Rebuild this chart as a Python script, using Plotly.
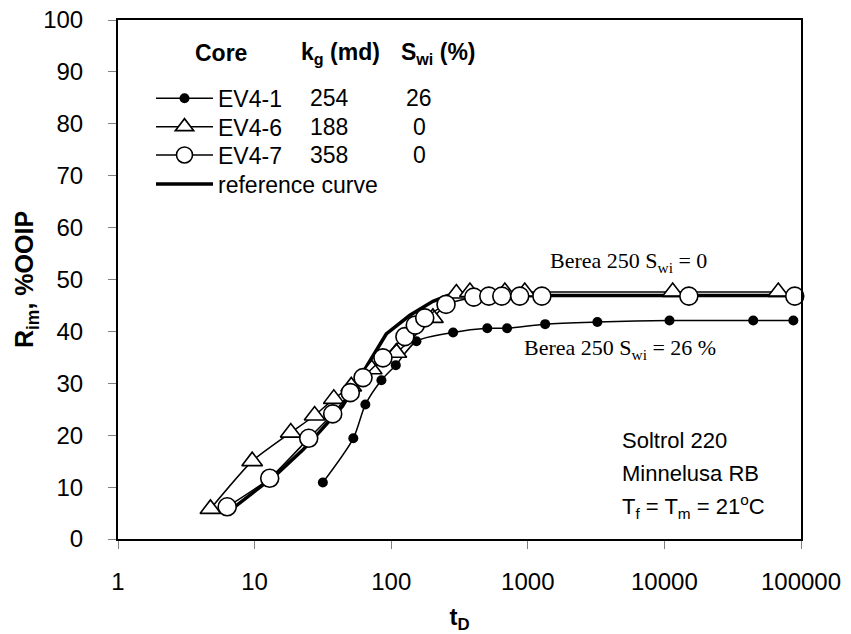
import plotly.graph_objects as go

# Core table shown in the legend block
cores = ["EV4-1", "EV4-6", "EV4-7"]
perm_kg_md = [254, 188, 358]
swi_pct = [26, 0, 0]

# EV4-1 : filled circles
ev41_td = [31.6, 52.8, 64.7, 84.8, 108, 153, 284, 505, 705, 1340, 3230, 10900, 44700, 87900]
ev41_r = [10.9, 19.4, 25.9, 30.6, 33.5, 38.1, 39.8, 40.6, 40.6, 41.4, 41.8, 42.1, 42.1, 42.1]

# EV4-6 : open triangles
ev46_td = [4.75, 9.6, 18.4, 27.5, 38, 51, 72, 109, 202, 300, 377, 679, 950, 11500, 68200]
ev46_r = [5.8, 15.0, 20.5, 23.8, 27.0, 29.4, 32.7, 35.9, 42.6, 47.3, 47.6, 47.6, 47.6, 47.6, 47.6]

# EV4-7 : open circles
ev47_td = [6.3, 12.9, 24.9, 37.3, 50.2, 62.2, 87, 126, 150, 176, 252, 402, 518, 645, 873, 1268, 15100, 90000]
ev47_r = [6.2, 11.7, 19.4, 24.1, 28.2, 31.1, 34.9, 39.0, 41.2, 42.6, 45.2, 46.6, 46.8, 46.8, 46.8, 46.8, 46.8, 46.8]

# Berea reference curve
ref_td = [7.0, 11.5, 14.4, 22.6, 26.7, 44, 66, 92, 137, 202, 260, 100000]
ref_r = [6.0, 10.5, 12.4, 17.2, 19.2, 25.6, 33.3, 39.5, 43.1, 45.8, 46.9, 46.9]

x_tickvals = [1, 10, 100, 1000, 10000, 100000]
x_ticktext = ["1", "10", "100", "1000", "10000", "100000"]

SANS = "Liberation Sans, Arial, sans-serif"
SERIF = "Liberation Serif, Times New Roman, serif"

W, H = 851, 634
ML, MR, MT, MB = 118, 50, 20, 95
PW, PH = W - ML - MR, H - MT - MB

TABLE_FONT = 23


def px_x(px):
    return (px - ML) / PW


def px_y(py):
    return 1 - (py - MT) / PH


fig = go.Figure()

fig.add_trace(go.Scatter(
    x=ref_td, y=ref_r, name="reference curve", mode="lines",
    line=dict(color="black", width=3.5), legend="legend4",
))
fig.add_trace(go.Scatter(
    x=ev41_td, y=ev41_r, name=cores[0], mode="lines+markers",
    line=dict(color="black", width=1.5, shape="spline", smoothing=0.8),
    marker=dict(symbol="circle", size=10, color="black"),
    cliponaxis=False, legend="legend",
))
fig.add_trace(go.Scatter(
    x=ev46_td, y=ev46_r, name=cores[1], mode="lines+markers",
    line=dict(color="black", width=1.5, shape="spline", smoothing=0.6),
    marker=dict(symbol="triangle-up", size=18, color="white",
                line=dict(color="black", width=1.6)),
    cliponaxis=False, legend="legend2",
))
fig.add_trace(go.Scatter(
    x=ev47_td, y=ev47_r, name=cores[2], mode="lines+markers",
    line=dict(color="black", width=1.5, shape="spline", smoothing=0.6),
    marker=dict(symbol="circle", size=18, color="white",
                line=dict(color="black", width=1.6)),
    cliponaxis=False, legend="legend3",
))

annotations = []
# table header
for txt, px, anchor in [("Core", 221, "center"),
                        ("k<sub>g</sub> (md)", 299, "left"),
                        ("S<sub>wi</sub> (%)", 399, "left")]:
    annotations.append(dict(
        text="<b>" + txt + "</b>", x=px_x(px), y=px_y(53), xref="paper", yref="paper",
        xanchor=anchor, yanchor="middle", showarrow=False,
        font=dict(family=SANS, size=TABLE_FONT, color="black"),
    ))
# table rows
row_y = [98.3, 126.7, 155.0, 184.0]
for k, s, py in zip(perm_kg_md, swi_pct, row_y):
    annotations.append(dict(
        text=str(k), x=px_x(308), y=px_y(py), xref="paper", yref="paper",
        xanchor="left", yanchor="middle", showarrow=False,
        font=dict(family=SANS, size=TABLE_FONT, color="black"),
    ))
    annotations.append(dict(
        text=str(s), x=px_x(419), y=px_y(py), xref="paper", yref="paper",
        xanchor="center", yanchor="middle", showarrow=False,
        font=dict(family=SANS, size=TABLE_FONT, color="black"),
    ))
# curve labels
annotations.append(dict(
    text="Berea 250 S<sub>wi</sub> = 0", x=px_x(628), y=px_y(262), xref="paper", yref="paper",
    xanchor="center", yanchor="middle", showarrow=False,
    font=dict(family=SERIF, size=22, color="black"),
))
annotations.append(dict(
    text="Berea 250 S<sub>wi</sub> = 26 %", x=px_x(620), y=px_y(349), xref="paper", yref="paper",
    xanchor="center", yanchor="middle", showarrow=False,
    font=dict(family=SERIF, size=22, color="black"),
))
# test conditions
for txt, py in [("Soltrol 220", 440), ("Minnelusa RB", 473),
                ("T<sub>f</sub> = T<sub>m</sub> = 21<sup>o</sup>C", 506)]:
    annotations.append(dict(
        text=txt, x=px_x(620), y=px_y(py), xref="paper", yref="paper",
        xanchor="left", yanchor="middle", showarrow=False,
        font=dict(family=SANS, size=22, color="black"),
    ))

# one legend box per table row so each entry lines up with its row
legend_common = dict(
    xanchor="left", yanchor="middle",
    bgcolor="rgba(0,0,0,0)", borderwidth=0,
    font=dict(family=SANS, size=TABLE_FONT, color="black"),
    itemwidth=57,
)
legend_x = px_x(151)
legends = {}
for name, py in zip(["legend", "legend2", "legend3", "legend4"], row_y):
    legends[name] = dict(x=legend_x, y=px_y(py), **legend_common)

fig.update_layout(
    width=W, height=H,
    margin=dict(l=ML, r=MR, t=MT, b=MB, pad=0, autoexpand=False),
    paper_bgcolor="white", plot_bgcolor="white",
    font=dict(family=SANS, color="black"),
    showlegend=True,
    annotations=annotations,
    **legends,
)

fig.update_xaxes(
    type="log", range=[0, 5], automargin=False,
    tickmode="array", tickvals=x_tickvals, ticktext=x_ticktext,
    showgrid=False, zeroline=False,
    showline=True, linecolor="black", linewidth=2, mirror=True,
    ticks="outside", ticklen=8, tickwidth=1, tickcolor="#808080",
    ticklabelstandoff=12,
    tickfont=dict(family=SANS, size=24, color="black"),
    title=dict(text="<b>t<sub>D</sub></b>", font=dict(family=SANS, size=24, color="black"),
               standoff=19),
)
fig.update_yaxes(
    range=[0, 100], dtick=10, tick0=0, automargin=False,
    showgrid=False, zeroline=False,
    showline=True, linecolor="black", linewidth=2, mirror=True,
    ticks="outside", ticklen=8, tickwidth=1, tickcolor="#808080",
    ticklabelstandoff=20,
    tickfont=dict(family=SANS, size=24, color="black"),
    title=dict(text="<b>R<sub>im</sub>, %OOIP</b>", font=dict(family=SANS, size=25, color="black"),
               standoff=2),
)

fig.write_html("out.html")
